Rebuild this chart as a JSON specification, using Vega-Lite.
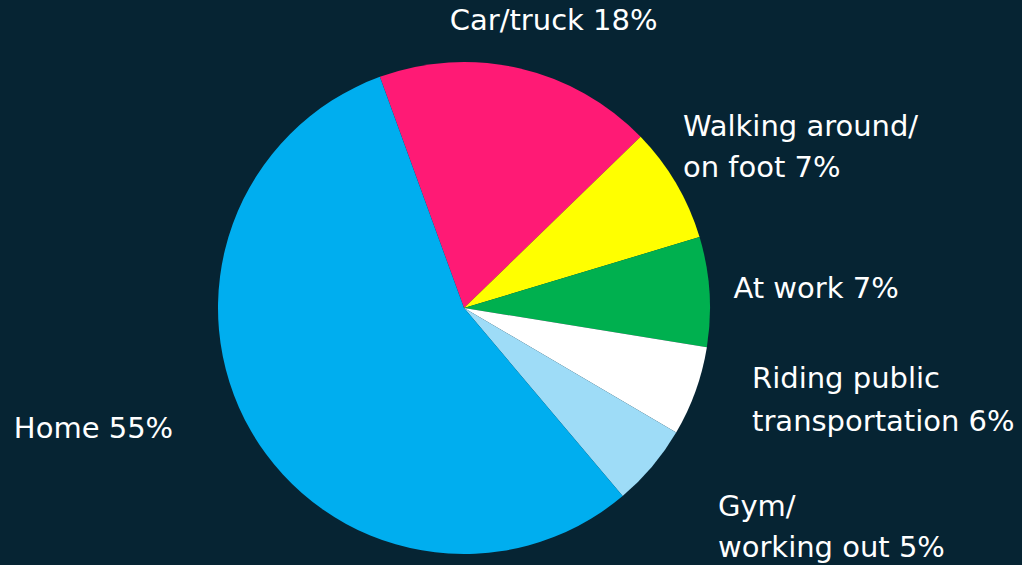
{
  "$schema": "https://vega.github.io/schema/vega-lite/v6.json",
  "width": 928,
  "height": 514,
  "autosize": {"type": "none"},
  "padding": {"left": 0, "top": 51, "right": 94, "bottom": 0},
  "background": "#062433",
  "config": {"view": {"stroke": null}, "text": {"font": "DejaVu Sans", "fontSize": 29, "fill": "#ffffff"}},
  "data": {
    "values": [
      {"category": "Car/truck", "label": "Car/truck 18%", "value": 18.3, "rank": 1},
      {"category": "Walking around/on foot", "label": "Walking around/\non foot 7%", "value": 7.6, "rank": 2},
      {"category": "At work", "label": "At work 7%", "value": 7.2, "rank": 3},
      {"category": "Riding public transportation", "label": "Riding public\ntransportation 6%", "value": 5.9, "rank": 4},
      {"category": "Gym/working out", "label": "Gym/\nworking out 5%", "value": 5.4, "rank": 5},
      {"category": "Home", "label": "Home 55%", "value": 55.6, "rank": 6}
    ]
  },
  "transform": [
    {"stack": "value", "groupby": [], "sort": [{"field": "rank", "order": "ascending"}], "as": ["v0", "v1"]},
    {"calculate": "(datum.v0 + datum.v1) / 2", "as": "mid"}
  ],
  "layer": [
    {
      "mark": {"type": "arc", "outerRadius": 246},
      "encoding": {
        "theta": {"field": "v0", "type": "quantitative", "scale": {"domain": [0, 100], "range": [-0.349, 5.934]}},
        "theta2": {"field": "v1"},
        "color": {
          "field": "category",
          "type": "nominal",
          "scale": {
            "domain": ["Car/truck", "Walking around/on foot", "At work", "Riding public transportation", "Gym/working out", "Home"],
            "range": ["#ff1a75", "#ffff00", "#00b04f", "#ffffff", "#9edcf7", "#00aeef"]
          },
          "legend": null
        }
      }
    },
    {
      "transform": [{"filter": "datum.rank == 1"}],
      "mark": {"type": "text", "radius": 270, "align": "center", "baseline": "alphabetic", "dx": 29.2, "dy": -14.8},
      "encoding": {"theta": {"field": "mid", "type": "quantitative"}, "text": {"field": "label"}}
    },
    {
      "transform": [{"filter": "datum.rank == 2"}],
      "mark": {"type": "text", "radius": 270, "align": "left", "baseline": "alphabetic", "lineBreak": "\n", "lineHeight": 41.5, "dx": -13.9, "dy": -35.4},
      "encoding": {"theta": {"field": "mid", "type": "quantitative"}, "text": {"field": "label"}}
    },
    {
      "transform": [{"filter": "datum.rank == 3"}],
      "mark": {"type": "text", "radius": 270, "align": "left", "baseline": "alphabetic", "dx": 0, "dy": 8.2},
      "encoding": {"theta": {"field": "mid", "type": "quantitative"}, "text": {"field": "label"}}
    },
    {
      "transform": [{"filter": "datum.rank == 4"}],
      "mark": {"type": "text", "radius": 270, "align": "left", "baseline": "alphabetic", "lineBreak": "\n", "lineHeight": 43, "dx": 34, "dy": -11.1},
      "encoding": {"theta": {"field": "mid", "type": "quantitative"}, "text": {"field": "label"}}
    },
    {
      "transform": [{"filter": "datum.rank == 5"}],
      "mark": {"type": "text", "radius": 270, "align": "left", "baseline": "alphabetic", "lineBreak": "\n", "lineHeight": 41, "dx": 47.5, "dy": 34.1},
      "encoding": {"theta": {"field": "mid", "type": "quantitative"}, "text": {"field": "label"}}
    },
    {
      "transform": [{"filter": "datum.rank == 6"}],
      "mark": {"type": "text", "radius": 270, "align": "right", "baseline": "alphabetic", "dx": -57.2, "dy": -5.7},
      "encoding": {"theta": {"field": "mid", "type": "quantitative"}, "text": {"field": "label"}}
    }
  ]
}
